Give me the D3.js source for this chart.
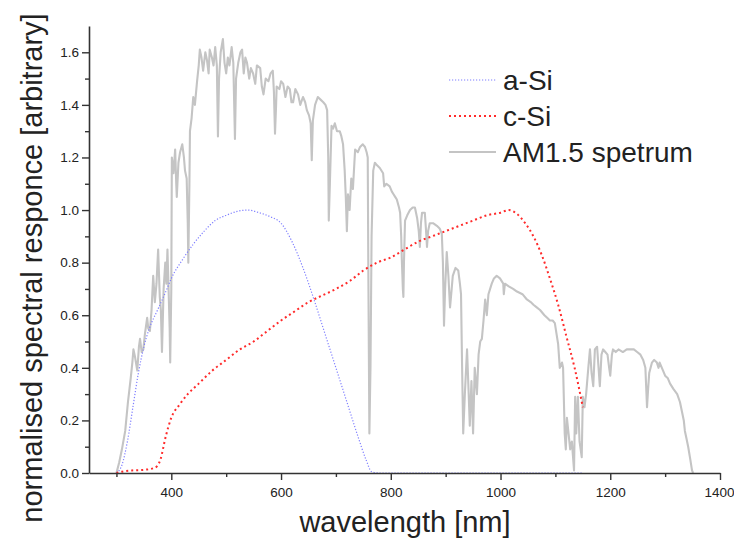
<!DOCTYPE html>
<html>
<head>
<meta charset="utf-8">
<script src="https://cdn.jsdelivr.net/npm/d3@7"></script>
<style>
  body { margin: 0; background: #fff; }
  svg text { font-family: "Liberation Sans", Arial, sans-serif; fill: #222; }
</style>
</head>
<body>
<div id="chart"></div>
<script>
// AM1.5 spectrum, normalised
var amWl = [300,305,310,316,321,326,329,331,334,338,341,343,346,349,352,356,358,361,364,367,370,373,376,379,381,383,386,389,391,393,395,397,398,400,
  401,404,407,409,410,413,416,420,423,425,428,430,431,433,434,437,440,443,447,450,452,455,458,462,465,468,470,474,477,480,483,485,487,490,494,497,
  500,503,506,510,513,516,518,522,526,529,532,535,538,542,545,549,553,556,562,565,568,572,577,581,585,587,589,591,592,597,600,604,608,612,616,619,
  622,626,631,635,640,644,647,651,654,656,658,662,667,672,677,681,684,686,687,689,692,695,698,702,707,710,713,716,718,720,722,725,728,731,735,740,
  744,749,753,756,758,759,761,763,765,768,771,775,780,786,788,792,798,802,805,808,811,815,817,819,820,822,823,824,826,830,835,840,844,848,851,853,
  855,857,862,864,866,868,871,877,884,889,893,895,897,899,902,905,908,911,913,918,923,926,928,930,932,935,939,942,944,947,950,953,957,960,963,966,
  969,972,975,978,984,988,993,999,1005,1006,1008,1015,1023,1030,1040,1048,1055,1060,1066,1072,1080,1085,1090,1095,1099,1102,1105,1108,1112,1114,
  1117,1119,1121,1124,1127,1130,1134,1136,1138,1141,1144,1148,1150,1153,1156,1160,1163,1166,1169,1172,1176,1178,1181,1184,1187,1191,1195,1198,1200,
  1203,1205,1210,1215,1223,1230,1236,1243,1249,1255,1260,1264,1267,1269,1271,1276,1280,1285,1288,1290,1296,1300,1305,1309,1315,1322,1327,1331,1334,
  1336,1339,1342,1346,1349,1351];
var amVal = [0,0.04,0.09,0.16,0.27,0.36,0.42,0.47,0.44,0.39,0.48,0.51,0.46,0.47,0.53,0.59,0.55,0.54,0.62,0.75,0.65,0.72,0.85,0.67,0.62,0.46,0.70,0.80,0.72,0.85,0.70,0.55,0.42,0.70,
  1.20,1.14,1.23,1.10,1.05,1.18,1.22,1.25,1.20,1.15,1.12,0.95,0.80,1.10,1.30,1.35,1.43,1.40,1.49,1.55,1.61,1.58,1.53,1.60,1.57,1.52,1.61,1.58,1.55,1.62,1.55,1.28,1.50,1.60,1.65,1.56,
  1.52,1.58,1.55,1.62,1.56,1.27,1.50,1.56,1.60,1.61,1.52,1.58,1.56,1.50,1.54,1.52,1.48,1.55,1.54,1.47,1.44,1.50,1.49,1.52,1.53,1.45,1.29,1.40,1.47,1.46,1.49,1.48,1.43,1.47,1.46,1.41,
  1.41,1.46,1.44,1.40,1.43,1.41,1.38,1.36,1.33,1.19,1.34,1.40,1.43,1.42,1.41,1.40,1.38,1.20,0.96,1.10,1.32,1.31,1.33,1.30,1.30,1.28,1.25,1.15,1.05,0.92,1.06,1.00,1.12,1.08,1.23,1.22,
  1.24,1.25,1.24,1.22,1.20,0.80,0.15,0.40,0.90,1.15,1.18,1.17,1.16,1.14,1.09,1.10,1.09,1.07,1.06,1.05,1.04,1.01,0.99,0.90,0.82,0.70,0.67,0.80,0.96,0.98,1.00,1.01,1.01,0.97,0.92,0.86,
  0.95,0.99,0.99,0.93,0.86,0.92,0.95,0.95,0.94,0.93,0.91,0.80,0.56,0.70,0.84,0.75,0.63,0.70,0.75,0.78,0.77,0.72,0.68,0.40,0.15,0.30,0.47,0.30,0.18,0.35,0.15,0.40,0.30,0.45,0.50,0.51,
  0.58,0.66,0.60,0.68,0.72,0.74,0.75,0.74,0.72,0.68,0.72,0.71,0.70,0.69,0.68,0.66,0.65,0.64,0.63,0.62,0.60,0.59,0.58,0.58,0.57,0.53,0.49,0.40,0.42,0.40,
  0.15,0.09,0.21,0.15,0.09,0.12,0.01,0.29,0.15,0.29,0.12,0.06,0.29,0.25,0.30,0.40,0.47,0.38,0.33,0.47,0.48,0.42,0.33,0.45,0.47,0.46,0.45,0.40,0.37,
  0.45,0.47,0.46,0.47,0.46,0.47,0.47,0.47,0.46,0.45,0.43,0.40,0.25,0.32,0.38,0.42,0.43,0.42,0.40,0.42,0.39,0.37,0.36,0.34,0.32,0.30,0.27,0.23,0.20,
  0.16,0.13,0.10,0.05,0.01,0];

// a-Si spectral response
var aSiWl = [300,310,320,330,340,350,360,375,390,400,420,440,460,480,500,520,540,560,580,600,620,640,660,680,700,720,740,755,765,780,900,1000,1150];
var aSiVal = [0,0.03,0.12,0.25,0.38,0.48,0.55,0.62,0.69,0.74,0.81,0.87,0.92,0.96,0.98,0.995,1.0,0.99,0.975,0.95,0.88,0.78,0.66,0.53,0.40,0.27,0.14,0.05,0.005,0,0,0,0];

// c-Si spectral response
var cSiWl = [300,310,330,350,370,380,390,400,415,430,450,475,500,525,550,575,600,625,650,675,700,725,750,775,800,825,850,875,900,925,950,975,1000,1015,1030,1045,1060,1075,1090,1105,1120,1135,1150];
var cSiVal = [0,0.005,0.01,0.012,0.02,0.05,0.14,0.21,0.26,0.30,0.34,0.39,0.43,0.47,0.50,0.54,0.58,0.615,0.65,0.675,0.70,0.73,0.77,0.80,0.82,0.85,0.88,0.90,0.92,0.94,0.96,0.98,0.99,1.0,0.985,0.95,0.90,0.83,0.74,0.64,0.52,0.40,0.25];

var xMajor = [400,600,800,1000,1200,1400];
var xMinor = [300,500,700,900,1100,1300];
var yMajor = [0,0.2,0.4,0.6,0.8,1.0,1.2,1.4,1.6];
var yMinor = [0.1,0.3,0.5,0.7,0.9,1.1,1.3,1.5];

var legendNames = ["a-Si", "c-Si", "AM1.5 spetrum"];

var width = 734, height = 541;
var svg = d3.select("#chart").append("svg")
    .attr("width", width).attr("height", height);

var x = d3.scaleLinear().domain([250, 1400]).range([89, 720]);
var y = d3.scaleLinear().domain([0, 1.7]).range([473, 26]);

function series(wl, val) { return wl.map((w, i) => [w, val[i]]); }

var line = d3.line().x(d => x(d[0])).y(d => y(d[1]));
var smooth = d3.line().x(d => x(d[0])).y(d => y(d[1])).curve(d3.curveMonotoneX);

// spectrum
svg.append("path")
    .datum(series(amWl, amVal))
    .attr("d", line)
    .attr("fill", "none")
    .attr("stroke", "#c4c4c4")
    .attr("stroke-width", 2.1)
    .attr("stroke-linejoin", "round");

svg.append("path")
    .datum(series(aSiWl, aSiVal))
    .attr("d", smooth)
    .attr("fill", "none")
    .attr("stroke", "#7f7fff")
    .attr("stroke-width", 1.2)
    .attr("stroke-dasharray", "1.2,1.8");

svg.append("path")
    .datum(series(cSiWl, cSiVal))
    .attr("d", smooth)
    .attr("fill", "none")
    .attr("stroke", "#ff2a2a")
    .attr("stroke-width", 2)
    .attr("stroke-dasharray", "2,3");

// axes
var xAxis = svg.append("g").attr("transform", "translate(0,473)")
    .call(d3.axisBottom(x).tickValues(xMajor).tickSize(7).tickSizeOuter(0).tickFormat(d3.format("d")));
svg.append("g").attr("transform", "translate(0,473)")
    .call(d3.axisBottom(x).tickValues(xMinor).tickSize(4).tickFormat(""))
    .select(".domain").remove();
var yAxis = svg.append("g").attr("transform", "translate(89,0)")
    .call(d3.axisLeft(y).tickValues(yMajor).tickSize(7).tickSizeOuter(0).tickFormat(d3.format(".1f")));
svg.append("g").attr("transform", "translate(89,0)")
    .call(d3.axisLeft(y).tickValues(yMinor).tickSize(4).tickFormat(""))
    .select(".domain").remove();

svg.selectAll(".domain").attr("stroke", "#333").attr("stroke-width", 1.6);
svg.selectAll(".tick line").attr("stroke", "#333").attr("stroke-width", 1.4);
svg.selectAll(".tick text").style("font-size", "13.5px").attr("fill", "#222");
xAxis.selectAll(".tick text").attr("dy", "1.0em");
// keep the last label inside the page
xAxis.selectAll(".tick text").filter(d => d === 1400).attr("text-anchor", "end").attr("dx", 14);

// axis titles
svg.append("text")
    .attr("x", 405).attr("y", 532)
    .attr("text-anchor", "middle")
    .style("font-size", "29px")
    .text("wavelength [nm]");

svg.append("text")
    .attr("transform", "translate(42,268) rotate(-90)")
    .attr("text-anchor", "middle")
    .style("font-size", "29px")
    .text("normalised spectral responce [arbitrary]");

// legend
var legStyles = [
  {stroke: "#7f7fff", w: 1.2, dash: "1.2,1.8"},
  {stroke: "#ff2a2a", w: 2, dash: "2,3"},
  {stroke: "#c4c4c4", w: 2.1, dash: null}
];
var legend = svg.append("g");
legendNames.forEach(function(name, i) {
    var ly = 80 + i * 36;
    legend.append("line")
        .attr("x1", 449).attr("x2", 496).attr("y1", ly).attr("y2", ly)
        .attr("stroke", legStyles[i].stroke)
        .attr("stroke-width", legStyles[i].w)
        .attr("stroke-dasharray", legStyles[i].dash);
    legend.append("text")
        .attr("x", 503).attr("y", ly + 10)
        .style("font-size", "28px")
        .text(name);
});
</script>
</body>
</html>
